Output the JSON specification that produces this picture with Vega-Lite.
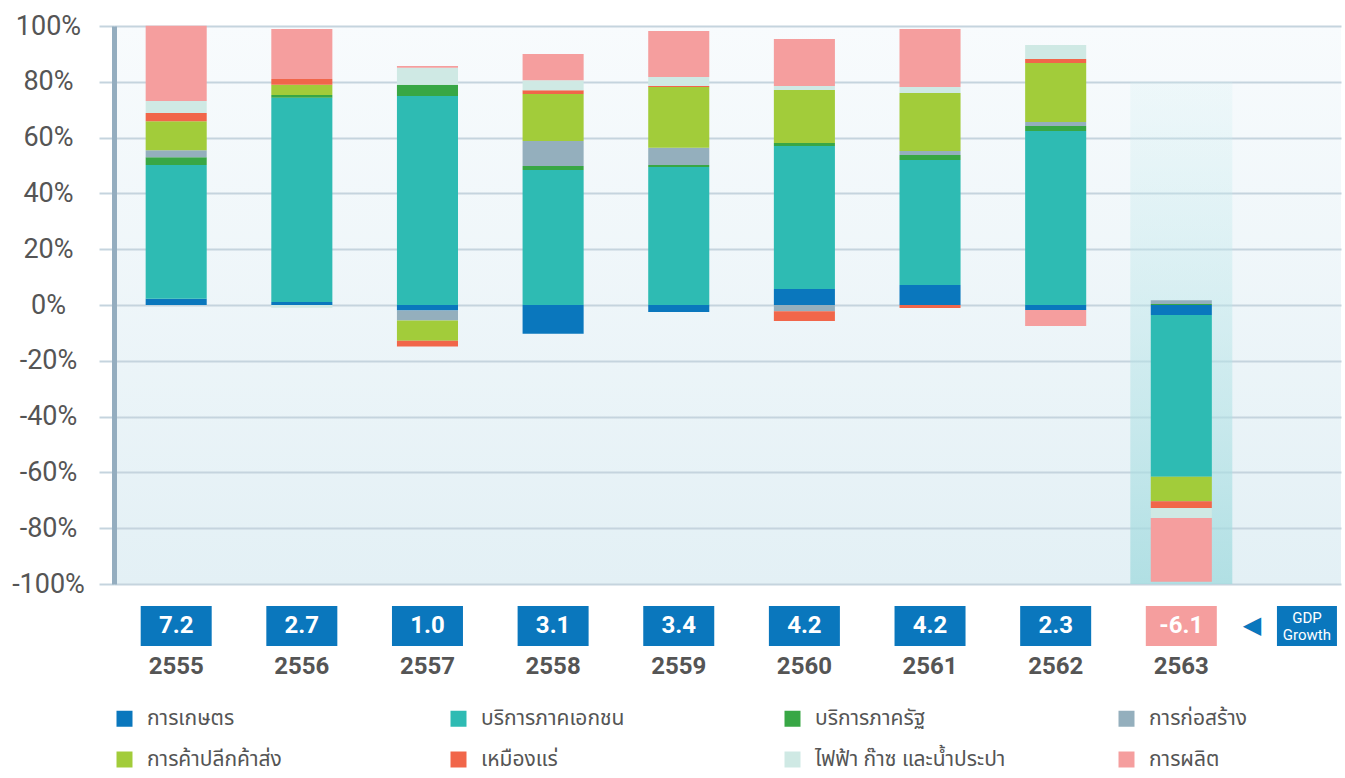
{
  "$schema": "https://vega.github.io/schema/vega-lite/v6.json",
  "background": "white",
  "padding": {"left": 11, "top": 12, "right": 5, "bottom": 0},
  "config": {
    "font": "Roboto",
    "view": {"stroke": null},
    "locale": {"number": {"decimal": ".", "thousands": ",", "grouping": [3], "currency": ["", ""], "minus": "-"}}
  },
  "datasets": {
    "shares": [
      {"year": "2555", "sector": "การเกษตร", "order": 1, "value": 2.2},
      {"year": "2555", "sector": "บริการภาคเอกชน", "order": 2, "value": 48.0},
      {"year": "2555", "sector": "บริการภาครัฐ", "order": 3, "value": 2.8},
      {"year": "2555", "sector": "การก่อสร้าง", "order": 4, "value": 2.5},
      {"year": "2555", "sector": "การค้าปลีกค้าส่ง", "order": 5, "value": 10.4},
      {"year": "2555", "sector": "เหมืองแร่", "order": 6, "value": 2.9},
      {"year": "2555", "sector": "ไฟฟ้า ก๊าซ และน้ำประปา", "order": 7, "value": 4.3},
      {"year": "2555", "sector": "การผลิต", "order": 8, "value": 27.0},
      {"year": "2556", "sector": "การเกษตร", "order": 1, "value": 1.1},
      {"year": "2556", "sector": "บริการภาคเอกชน", "order": 2, "value": 73.2},
      {"year": "2556", "sector": "บริการภาครัฐ", "order": 3, "value": 1.0},
      {"year": "2556", "sector": "การก่อสร้าง", "order": 4, "value": 0},
      {"year": "2556", "sector": "การค้าปลีกค้าส่ง", "order": 5, "value": 3.6},
      {"year": "2556", "sector": "เหมืองแร่", "order": 6, "value": 2.1},
      {"year": "2556", "sector": "ไฟฟ้า ก๊าซ และน้ำประปา", "order": 7, "value": -1.0},
      {"year": "2556", "sector": "การผลิต", "order": 8, "value": 17.9},
      {"year": "2557", "sector": "การเกษตร", "order": 1, "value": -2.0},
      {"year": "2557", "sector": "บริการภาคเอกชน", "order": 2, "value": 74.9},
      {"year": "2557", "sector": "บริการภาครัฐ", "order": 3, "value": 4.0},
      {"year": "2557", "sector": "การก่อสร้าง", "order": 4, "value": -3.6},
      {"year": "2557", "sector": "การค้าปลีกค้าส่ง", "order": 5, "value": -7.2},
      {"year": "2557", "sector": "เหมืองแร่", "order": 6, "value": -2.1},
      {"year": "2557", "sector": "ไฟฟ้า ก๊าซ และน้ำประปา", "order": 7, "value": 6.1},
      {"year": "2557", "sector": "การผลิต", "order": 8, "value": 0.7},
      {"year": "2558", "sector": "การเกษตร", "order": 1, "value": -10.3},
      {"year": "2558", "sector": "บริการภาคเอกชน", "order": 2, "value": 48.4},
      {"year": "2558", "sector": "บริการภาครัฐ", "order": 3, "value": 1.4},
      {"year": "2558", "sector": "การก่อสร้าง", "order": 4, "value": 9.0},
      {"year": "2558", "sector": "การค้าปลีกค้าส่ง", "order": 5, "value": 16.8},
      {"year": "2558", "sector": "เหมืองแร่", "order": 6, "value": 1.4},
      {"year": "2558", "sector": "ไฟฟ้า ก๊าซ และน้ำประปา", "order": 7, "value": 3.6},
      {"year": "2558", "sector": "การผลิต", "order": 8, "value": 9.4},
      {"year": "2559", "sector": "การเกษตร", "order": 1, "value": -2.5},
      {"year": "2559", "sector": "บริการภาคเอกชน", "order": 2, "value": 49.5},
      {"year": "2559", "sector": "บริการภาครัฐ", "order": 3, "value": 0.7},
      {"year": "2559", "sector": "การก่อสร้าง", "order": 4, "value": 6.2},
      {"year": "2559", "sector": "การค้าปลีกค้าส่ง", "order": 5, "value": 21.7},
      {"year": "2559", "sector": "เหมืองแร่", "order": 6, "value": 0.4},
      {"year": "2559", "sector": "ไฟฟ้า ก๊าซ และน้ำประปา", "order": 7, "value": 3.2},
      {"year": "2559", "sector": "การผลิต", "order": 8, "value": 16.5},
      {"year": "2560", "sector": "การเกษตร", "order": 1, "value": 5.7},
      {"year": "2560", "sector": "บริการภาคเอกชน", "order": 2, "value": 51.3},
      {"year": "2560", "sector": "บริการภาครัฐ", "order": 3, "value": 1.1},
      {"year": "2560", "sector": "การก่อสร้าง", "order": 4, "value": -2.2},
      {"year": "2560", "sector": "การค้าปลีกค้าส่ง", "order": 5, "value": 19.0},
      {"year": "2560", "sector": "เหมืองแร่", "order": 6, "value": -3.5},
      {"year": "2560", "sector": "ไฟฟ้า ก๊าซ และน้ำประปา", "order": 7, "value": 1.4},
      {"year": "2560", "sector": "การผลิต", "order": 8, "value": 16.8},
      {"year": "2561", "sector": "การเกษตร", "order": 1, "value": 7.2},
      {"year": "2561", "sector": "บริการภาคเอกชน", "order": 2, "value": 44.8},
      {"year": "2561", "sector": "บริการภาครัฐ", "order": 3, "value": 1.8},
      {"year": "2561", "sector": "การก่อสร้าง", "order": 4, "value": 1.4},
      {"year": "2561", "sector": "การค้าปลีกค้าส่ง", "order": 5, "value": 20.8},
      {"year": "2561", "sector": "เหมืองแร่", "order": 6, "value": -1.1},
      {"year": "2561", "sector": "ไฟฟ้า ก๊าซ และน้ำประปา", "order": 7, "value": 2.1},
      {"year": "2561", "sector": "การผลิต", "order": 8, "value": 20.8},
      {"year": "2562", "sector": "การเกษตร", "order": 1, "value": -1.8},
      {"year": "2562", "sector": "บริการภาคเอกชน", "order": 2, "value": 62.4},
      {"year": "2562", "sector": "บริการภาครัฐ", "order": 3, "value": 1.8},
      {"year": "2562", "sector": "การก่อสร้าง", "order": 4, "value": 1.4},
      {"year": "2562", "sector": "การค้าปลีกค้าส่ง", "order": 5, "value": 21.1},
      {"year": "2562", "sector": "เหมืองแร่", "order": 6, "value": 1.5},
      {"year": "2562", "sector": "ไฟฟ้า ก๊าซ และน้ำประปา", "order": 7, "value": 5.0},
      {"year": "2562", "sector": "การผลิต", "order": 8, "value": -5.7},
      {"year": "2563", "sector": "การเกษตร", "order": 1, "value": -3.6},
      {"year": "2563", "sector": "บริการภาคเอกชน", "order": 2, "value": -58.0},
      {"year": "2563", "sector": "บริการภาครัฐ", "order": 3, "value": 0.4},
      {"year": "2563", "sector": "การก่อสร้าง", "order": 4, "value": 1.3},
      {"year": "2563", "sector": "การค้าปลีกค้าส่ง", "order": 5, "value": -8.7},
      {"year": "2563", "sector": "เหมืองแร่", "order": 6, "value": -2.5},
      {"year": "2563", "sector": "ไฟฟ้า ก๊าซ และน้ำประปา", "order": 7, "value": -3.5},
      {"year": "2563", "sector": "การผลิต", "order": 8, "value": -22.9}
    ],
    "gdp": [
      {"year": "2555", "gdp": 7.2},
      {"year": "2556", "gdp": 2.7},
      {"year": "2557", "gdp": 1.0},
      {"year": "2558", "gdp": 3.1},
      {"year": "2559", "gdp": 3.4},
      {"year": "2560", "gdp": 4.2},
      {"year": "2561", "gdp": 4.2},
      {"year": "2562", "gdp": 2.3},
      {"year": "2563", "gdp": -6.1}
    ],
    "highlight": [{"year": "2563", "from": -100, "to": 80}],
    "gdplabel": [{"year": "GDP", "label": "GDP Growth"}]
  },
  "vconcat": [
    {
      "width": 1227,
      "height": 558,
      "view": {"stroke": null,
        "fill": {"gradient": "linear", "x1": 0, "y1": 0, "x2": 0, "y2": 1,
          "stops": [{"offset": 0, "color": "#f8fbfd"}, {"offset": 1, "color": "#e3f0f5"}]}},
      "encoding": {
        "x": {"field": "year", "type": "nominal",
          "scale": {"domain": ["2555", "2556", "2557", "2558", "2559", "2560", "2561", "2562", "2563", "GDP"],
            "paddingInner": 0.514, "paddingOuter": 0.14, "align": 0.9},
          "axis": null}
      },
      "layer": [
        {
          "data": {"name": "highlight"},
          "mark": {"type": "bar", "width": {"band": 1.67},
            "fill": {"gradient": "linear", "x1": 0, "y1": 0, "x2": 0, "y2": 1,
              "stops": [{"offset": 0, "color": "rgba(205,238,240,0.2)"}, {"offset": 1, "color": "rgba(160,218,222,0.75)"}]}},
          "encoding": {
            "y": {"field": "to", "type": "quantitative"},
            "y2": {"field": "from"}
          }
        },
        {
          "data": {"name": "shares"},
          "mark": {"type": "bar"},
          "encoding": {
            "y": {"field": "value", "type": "quantitative", "stack": "zero",
              "scale": {"domain": [-100, 100], "nice": false},
              "axis": {"title": null, "values": [-100, -80, -60, -40, -20, 0, 20, 40, 60, 80, 100],
                "labelExpr": "datum.value + '%'", "labelFont": "Roboto", "labelFontSize": 27,
                "labelColor": "#555555", "labelAlign": "center", "labelPadding": 51,
                "tickSize": 15, "tickWidth": 2, "tickColor": "#c5d4de",
                "gridColor": "#c5d4de", "gridWidth": 2,
                "domainColor": "#94adbf", "domainWidth": 5}},
            "order": {"field": "order", "type": "quantitative"},
            "color": {"field": "sector", "type": "nominal",
              "scale": {
                "domain": ["การเกษตร", "บริการภาคเอกชน", "บริการภาครัฐ", "การก่อสร้าง", "การค้าปลีกค้าส่ง", "เหมืองแร่", "ไฟฟ้า ก๊าซ และน้ำประปา", "การผลิต"],
                "range": ["#0A77BD", "#2EBBB3", "#38A745", "#94AFBD", "#A2CC3A", "#F1664A", "#CFE9E4", "#F59E9E"]},
              "legend": {"title": null, "orient": "bottom", "columns": 4, "gridAlign": "all",
                "symbolType": "square", "symbolSize": 256, "symbolStrokeWidth": 0,
                "labelFont": "Noto Sans Thai, Noto Sans, sans-serif", "labelFontSize": 21,
                "labelColor": "#555555", "labelOffset": 12, "columnPadding": 110,
                "rowPadding": 19, "offset": 30, "labelLimit": 320}}
          }
        }
      ]
    },
    {
      "width": 1227,
      "height": 40,
      "encoding": {
        "x": {"field": "year", "type": "nominal",
          "scale": {"domain": ["2555", "2556", "2557", "2558", "2559", "2560", "2561", "2562", "2563", "GDP"],
            "paddingInner": 0.514, "paddingOuter": 0.14, "align": 0.9},
          "axis": {"title": null, "domain": false, "ticks": false, "labelAngle": 0,
            "labelFont": "Roboto", "labelFontSize": 24, "labelFontWeight": "bold",
            "labelColor": "#555555", "labelPadding": 8,
            "labelExpr": "datum.value == 'GDP' ? '' : datum.value"}}
      },
      "layer": [
        {
          "data": {"name": "gdp"},
          "mark": {"type": "bar", "width": 71},
          "encoding": {"color": {"condition": {"test": "datum.gdp < 0", "value": "#F59E9E"}, "value": "#0A77BD"}}
        },
        {
          "data": {"name": "gdp"},
          "mark": {"type": "text", "color": "white", "fontSize": 24, "fontWeight": "bold", "font": "Roboto"},
          "encoding": {"text": {"field": "gdp", "type": "quantitative", "format": ".1f"}}
        },
        {
          "data": {"name": "gdplabel"},
          "mark": {"type": "bar", "width": 60, "color": "#0A77BD"}
        },
        {
          "data": {"name": "gdplabel"},
          "mark": {"type": "text", "color": "white", "fontSize": 15, "lineHeight": 17, "baseline": "middle", "dy": -8, "font": "Roboto", "text": ["GDP", "Growth"]}
        },
        {
          "data": {"name": "gdplabel"},
          "mark": {"type": "text", "color": "#0A77BD", "fontSize": 24, "font": "DejaVu Sans", "text": "◀", "dx": -55}
        }
      ]
    }
  ],
  "spacing": 9
}
